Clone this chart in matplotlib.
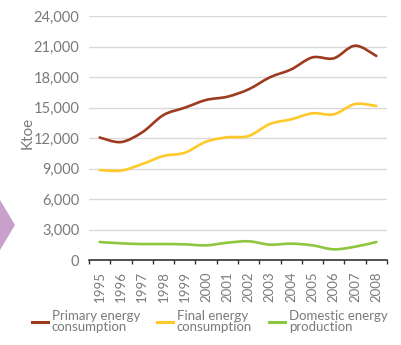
import matplotlib.pyplot as plt
from matplotlib.path import Path
from matplotlib.patches import PathPatch, Polygon
from matplotlib.lines import Line2D

years = ['1995', '1996', '1997', '1998', '1999', '2000', '2001',
         '2002', '2003', '2004', '2005', '2006', '2007', '2008']
primary = [12050, 11600, 12560, 14260, 14980, 15740, 16060,
           16790, 17970, 18750, 19930, 19840, 21080, 20070]
final = [8850, 8790, 9440, 10230, 10550, 11640, 12070,
         12200, 13380, 13840, 14430, 14330, 15340, 15150]
domestic = [1770, 1640, 1570, 1570, 1540, 1440, 1700,
            1840, 1510, 1610, 1440, 1050, 1310, 1770]
series_names = ['Primary energy\nconsumption', 'Final energy\nconsumption',
                'Domestic energy\nproduction']
yticks = [0, 3000, 6000, 9000, 12000, 15000, 18000, 21000, 24000]

COLORS = ['#9E3A1F', '#FFC92A', '#8DC63F']
TEXT = '#7A7A7A'
GRID = '#D9D9D9'
FONT = 'Lato'


def smooth_path(xs, ys, tension=6.0):
    # Catmull-Rom segments expressed as cubic Bezier curves
    verts = [(xs[0], ys[0])]
    codes = [Path.MOVETO]
    n = len(xs)
    for i in range(n - 1):
        x0, y0 = (xs[i - 1], ys[i - 1]) if i > 0 else (xs[i], ys[i])
        x1, y1 = xs[i], ys[i]
        x2, y2 = xs[i + 1], ys[i + 1]
        x3, y3 = (xs[i + 2], ys[i + 2]) if i + 2 < n else (x2, y2)
        c1 = (x1 + (x2 - x0) / tension, y1 + (y2 - y0) / tension)
        c2 = (x2 - (x3 - x1) / tension, y2 - (y3 - y1) / tension)
        verts += [c1, c2, (x2, y2)]
        codes += [Path.CURVE4] * 3
    return Path(verts, codes)


fig = plt.figure(figsize=(4.01, 3.45), dpi=100, facecolor='white')
ax = fig.add_axes([89 / 401, 1 - 260 / 345, 298 / 401, 244 / 345])

xs = list(range(len(years)))
for vals, color in zip([primary, final, domestic], COLORS):
    ax.add_patch(PathPatch(smooth_path(xs, vals), facecolor='none',
                           edgecolor=color, lw=1.9, capstyle='round',
                           zorder=3))

ax.set_xlim(-0.5, len(years) - 0.5)
ax.set_ylim(0, 24000)
ax.set_yticks(yticks)
ax.set_yticklabels([f'{v:,}' for v in yticks], fontsize=10.5, color=TEXT,
                   family=FONT)
ax.tick_params(axis='y', length=0, pad=7)
ax.yaxis.grid(True, color=GRID, lw=1)
ax.set_axisbelow(True)

# year labels sit in the middle of each band, ticks mark band edges
ax.set_xticks(xs)
ax.set_xticklabels(years, rotation=90, fontsize=9.5, color=TEXT, family=FONT)
ax.tick_params(axis='x', which='major', length=0, pad=8)
ax.set_xticks([x - 0.5 for x in xs] + [len(years) - 0.5], minor=True)
ax.tick_params(axis='x', which='minor', length=3, width=1, color='#333333',
               direction='out')

for side in ['top', 'right', 'left']:
    ax.spines[side].set_visible(False)
ax.spines['bottom'].set_color('#333333')
ax.spines['bottom'].set_linewidth(1.2)

fig.text(28 / 401, 1 - 133 / 345, 'Ktoe', rotation=90, ha='center',
         va='center', fontsize=11, color=TEXT, family=FONT)

# purple chevron on the page edge
fig.patches.append(Polygon([(0, 1 - 200 / 345), (15 / 401, 1 - 225 / 345),
                            (0, 1 - 250 / 345)], closed=True,
                           transform=fig.transFigure, facecolor='#C9A0CC',
                           edgecolor='none'))

handles = [Line2D([], [], color=c, lw=2.2) for c in COLORS]
leg = fig.legend(handles, series_names, loc='lower left',
                 bbox_to_anchor=(20 / 401, 0.0), ncol=3, frameon=False,
                 handlelength=1.2, handletextpad=0.3, columnspacing=1.3,
                 prop={'family': FONT, 'size': 9.5})
for t in leg.get_texts():
    t.set_color(TEXT)
    t.set_linespacing(0.9)

fig.savefig('out.png', dpi=100, facecolor='white')
